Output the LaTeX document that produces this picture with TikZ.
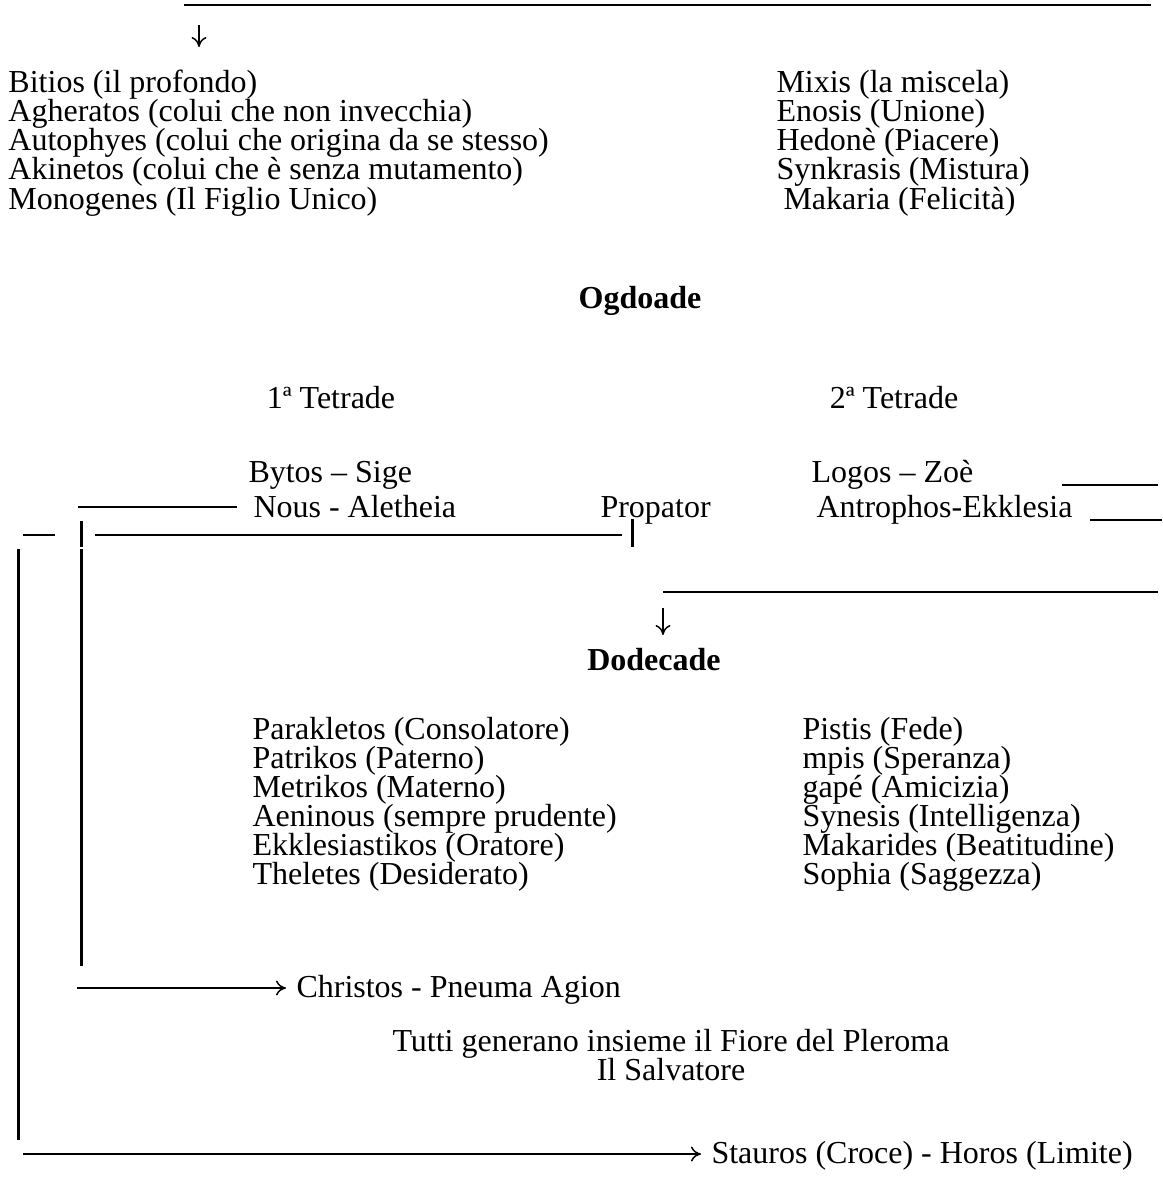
\documentclass[tikz,border=0pt]{standalone}
\usepackage{fontspec}
\setmainfont{Liberation Serif}
\usetikzlibrary{arrows.meta}

\begin{document}
\begin{tikzpicture}[
  x=0.4pt, y=-0.4pt,
  every node/.style={font=\fontsize{12.8}{14}\selectfont, inner sep=0pt},
  item/.style={anchor=base west},
  centre/.style={anchor=base},
  heading/.style={anchor=base, font=\fontsize{12.8}{14}\selectfont\bfseries},
  rule/.style={line width=0.6pt},
  heavy/.style={line width=1pt},
  bar/.style={line width=1.2pt},
  arrow/.style={-{To[length=4pt,width=6pt]}, line width=0.6pt},
]

\useasboundingbox (0,0) rectangle (1162,1188);

% Line and arrow at top
\coordinate (topL) at (184,5);
\coordinate (topR) at (1151,5);
\draw[rule] (topL) -- (topR);
\coordinate (topA) at (199,25);
\coordinate (topB) at (199,47);
\draw[arrow] (topA) -- (topB);

\node[item] (bitios) at (8,92) {Bitios (il profondo)};
\node[item] (agheratos) at (8,121) {Agheratos (colui che non invecchia)};
\node[item] (autophyes) at (8,150) {Autophyes (colui che origina da se stesso)};
\node[item] (akinetos) at (8,179) {Akinetos (colui che è senza mutamento)};
\node[item] (monogenes) at (8,209) {Monogenes (Il Figlio Unico)};

\node[item] (mixis) at (776,92) {Mixis (la miscela)};
\node[item] (enosis) at (776,121) {Enosis (Unione)};
\node[item] (hedone) at (776,150) {Hedonè (Piacere)};
\node[item] (synkrasis) at (776,179) {Synkrasis (Mistura)};
\node[item] (makaria) at (783,209) {Makaria (Felicità)};

\node[heading] (ogdoade) at (640,308) {Ogdoade};

\node[centre] (tetrade1) at (331,408) {1ª Tetrade};
\node[centre] (tetrade2) at (894,408) {2ª Tetrade};

\node[item] (bytos) at (248,482) {Bytos – Sige};
\node[item] (logos) at (811,482) {Logos – Zoè};
\node[item] (nous) at (253,517) {Nous - Aletheia};
\node[item] (propator) at (600,517) {Propator};
\node[item] (antrophos) at (816,517) {Antrophos-Ekklesia};

% Lines round the first Tetrade
\coordinate (logosR) at (1062,485);
\draw[rule] (logosR) -- ++(96,0);
\coordinate (antroR) at (1090,520);
\draw[rule] (antroR) -- ++(72,0);
\coordinate (nousL) at (78,507);
\draw[heavy, shorten >=6.4pt] (nousL) -- (nousL -| nous.west);

\coordinate (rowA) at (23,535);
\coordinate (rowB) at (55,535);
\draw[rule] (rowA) -- (rowB);
\coordinate (barA) at (81,521);
\coordinate (barB) at (81,547);
\draw[bar] (barA) -- (barB);
\coordinate (rowC) at (95,535);
\coordinate (rowD) at (622,535);
\draw[rule] (rowC) -- (rowD);
\coordinate (barC) at (632,519);
\coordinate (barD) at (632,547);
\draw[bar] (barC) -- (barD);

% Two vertical lines on the left
\coordinate (outerT) at (18,549);
\coordinate (outerB) at (18,1140);
\draw[bar] (outerT) -- (outerB);
\coordinate (innerT) at (81,549);
\coordinate (innerB) at (81,966);
\draw[bar] (innerT) -- (innerB);

% Line and arrow to the Dodecade
\coordinate (dodL) at (663,592);
\coordinate (dodR) at (1158,592);
\draw[rule] (dodL) -- (dodR);
\coordinate (dodA) at (663,608);
\coordinate (dodB) at (663,635);
\draw[arrow] (dodA) -- (dodB);

\node[heading] (dodecade) at (654,670) {Dodecade};

\node[item] (parakletos) at (252,739) {Parakletos (Consolatore)};
\node[item] (patrikos) at (252,768) {Patrikos (Paterno)};
\node[item] (metrikos) at (252,797) {Metrikos (Materno)};
\node[item] (aeninous) at (252,826) {Aeninous (sempre prudente)};
\node[item] (ekklesiastikos) at (252,855) {Ekklesiastikos (Oratore)};
\node[item] (theletes) at (252,884) {Theletes (Desiderato)};

\node[item] (pistis) at (802,739) {Pistis (Fede)};
\node[item] (elpis) at (802,768) {mpis (Speranza)};
\node[item] (agape) at (802,797) {gapé (Amicizia)};
\node[item] (synesis) at (802,826) {Synesis (Intelligenza)};
\node[item] (makarides) at (802,855) {Makarides (Beatitudine)};
\node[item] (sophia) at (802,884) {Sophia (Saggezza)};

% Christos and Stauros
\node[item] (christos) at (296,997) {Christos - Pneuma Agion};
\coordinate (chrL) at (77,988);
\draw[heavy] (chrL) -- ++(200,0);
\draw[arrow, shorten >=4pt] (chrL) -- (chrL -| christos.west);

\node[centre] (tutti) at (671,1051) {Tutti generano insieme il Fiore del Pleroma};
\node[centre] (salvatore) at (671,1080) {Il Salvatore};

\node[item] (stauros) at (711,1163) {Stauros (Croce) - Horos (Limite)};
\coordinate (stauL) at (23,1154);
\draw[heavy] (stauL) -- ++(660,0);
\draw[arrow, shorten >=4pt] (stauL) -- (stauL -| stauros.west);

\end{tikzpicture}
\end{document}
